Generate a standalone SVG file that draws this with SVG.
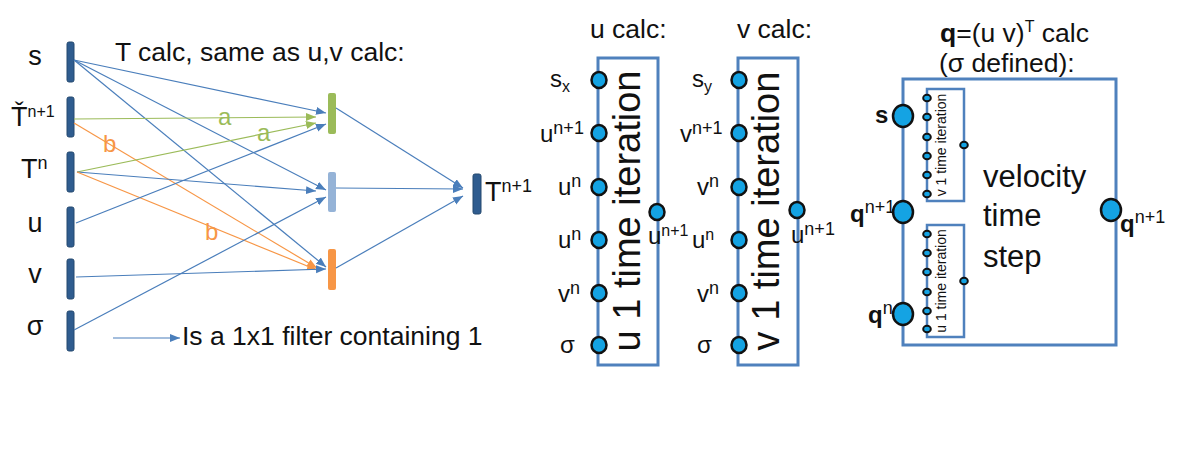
<svg xmlns="http://www.w3.org/2000/svg" width="1177" height="474" viewBox="0 0 1177 474">
<style>
text{font-family:"Liberation Sans",Arial,sans-serif;fill:#111}
.t26{font-size:26.5px}
.t27{font-size:27px}
.t24{font-size:24px}
.sup{font-size:18px}
.sup2{font-size:16px}
.bar{fill:#2f5c8f;stroke:#24496f;stroke-width:1}
.cb{stroke:#4a7ebb;stroke-width:1.2;fill:none}
.cg{stroke:#9bbb59;stroke-width:1.2;fill:none}
.co{stroke:#f79646;stroke-width:1.2;fill:none}
.box{fill:none;stroke:#4f81bd;stroke-width:3}
.port{fill:#14a3e3;stroke:#111;stroke-width:2.5}
.sport{fill:#14a3e3;stroke:#111;stroke-width:2}
.bold{font-weight:bold}
</style>
<defs>
<marker id="ab" markerUnits="userSpaceOnUse" markerWidth="11" markerHeight="9" refX="10" refY="4" orient="auto"><path d="M0,0 L10,4 L0,8 z" fill="#4a7ebb"/></marker>
<marker id="ag" markerUnits="userSpaceOnUse" markerWidth="11" markerHeight="9" refX="10" refY="4" orient="auto"><path d="M0,0 L10,4 L0,8 z" fill="#9bbb59"/></marker>
<marker id="ao" markerUnits="userSpaceOnUse" markerWidth="11" markerHeight="9" refX="10" refY="4" orient="auto"><path d="M0,0 L10,4 L0,8 z" fill="#f79646"/></marker>
</defs>
<rect width="1177" height="474" fill="#fff"/>

<!-- Left T calc section -->
<g id="in-s"><rect class="bar" x="67" y="42" width="7" height="40" rx="2"/><text class="t27" x="35" y="65" text-anchor="middle">s</text></g>
<g id="in-tcheck"><rect class="bar" x="67" y="97" width="7" height="40" rx="2"/><text class="t27" x="11" y="126">Ť<tspan class="sup2" dy="-9">n+1</tspan></text></g>
<g id="in-tn"><rect class="bar" x="67" y="152" width="7" height="40" rx="2"/><text class="t27" x="21" y="178">T<tspan class="sup" dy="-9">n</tspan></text></g>
<g id="in-u"><rect class="bar" x="67" y="207" width="7" height="40" rx="2"/><text class="t27" x="35" y="232" text-anchor="middle">u</text></g>
<g id="in-v"><rect class="bar" x="67" y="259" width="7" height="40" rx="2"/><text class="t27" x="35" y="283" text-anchor="middle">v</text></g>
<g id="in-sigma"><rect class="bar" x="67" y="311" width="7" height="40" rx="2"/><text class="t27" x="35" y="335" text-anchor="middle">σ</text></g>

<g id="mid-green"><rect x="328" y="93" width="8" height="41" rx="2" fill="#9bbb59"/></g>
<g id="mid-blue"><rect x="328" y="172" width="8" height="40" rx="2" fill="#95b3d7"/></g>
<g id="mid-orange"><rect x="328" y="249" width="8" height="41" rx="2" fill="#f79646"/></g>
<g id="out-t"><rect class="bar" x="473" y="174" width="8" height="40" rx="2"/><text class="t27" x="485" y="201">T<tspan class="sup" dy="-9">n+1</tspan></text></g>

<g id="connectors">
<line class="cb" x1="74" y1="60" x2="326" y2="113" marker-end="url(#ab)"/>
<line class="cb" x1="74" y1="60" x2="326" y2="190" marker-end="url(#ab)"/>
<line class="cb" x1="74" y1="60" x2="326" y2="267" marker-end="url(#ab)"/>
<line class="cg" x1="74" y1="119" x2="316" y2="117" marker-end="url(#ag)"/>
<line class="co" x1="74" y1="123" x2="317" y2="268" marker-end="url(#ao)"/>
<line class="cg" x1="77" y1="172" x2="316" y2="123" marker-end="url(#ag)"/>
<line class="cb" x1="77" y1="172" x2="316" y2="191" marker-end="url(#ab)"/>
<line class="co" x1="77" y1="172" x2="317" y2="270" marker-end="url(#ao)"/>
<line class="cb" x1="76" y1="223" x2="326" y2="124" marker-end="url(#ab)"/>
<line class="cb" x1="76" y1="277" x2="326" y2="269" marker-end="url(#ab)"/>
<line class="cb" x1="74" y1="330" x2="326" y2="197" marker-end="url(#ab)"/>
<line class="cb" x1="336" y1="108" x2="463" y2="188" marker-end="url(#ab)"/>
<line class="cb" x1="336" y1="188" x2="463" y2="189" marker-end="url(#ab)"/>
<line class="cb" x1="336" y1="268" x2="463" y2="196" marker-end="url(#ab)"/>
<line class="cb" x1="113" y1="338" x2="180" y2="338" marker-end="url(#ab)"/>
<text class="t24" x="218" y="125" style="fill:#9bbb59">a</text>
<text class="t24" x="257" y="141" style="fill:#9bbb59">a</text>
<text class="t24" x="103" y="152" style="fill:#f79646">b</text>
<text class="t24" x="205" y="240" style="fill:#f79646">b</text>
</g>

<text class="t26" x="115" y="61">T calc, same as u,v calc:</text>
<text class="t26" x="182" y="345">Is a 1x1 filter containing 1</text>

<!-- u calc -->
<g id="u-calc">
<text class="t26" x="590" y="38">u calc:</text>
<rect class="box" x="598" y="58" width="60" height="307"/>
<text x="640" y="211" font-size="38" text-anchor="middle" transform="rotate(-90 640 211)">u 1 time iteration</text>
<ellipse class="port" cx="599" cy="80" rx="7.5" ry="8"/>
<ellipse class="port" cx="599" cy="133" rx="7.5" ry="8"/>
<ellipse class="port" cx="599" cy="187" rx="7.5" ry="8"/>
<ellipse class="port" cx="599" cy="240" rx="7.5" ry="8"/>
<ellipse class="port" cx="599" cy="293" rx="7.5" ry="8"/>
<ellipse class="port" cx="599" cy="345" rx="7.5" ry="8"/>
<ellipse class="port" cx="657" cy="212" rx="7.5" ry="8"/>
<text class="t24" x="550" y="87">s<tspan font-size="16" dy="5">x</tspan></text>
<text class="t24" x="540" y="142">u<tspan class="sup" dy="-8">n+1</tspan></text>
<text class="t24" x="558" y="195">u<tspan class="sup" dy="-8">n</tspan></text>
<text class="t24" x="558" y="248">u<tspan class="sup" dy="-8">n</tspan></text>
<text class="t24" x="558" y="302">v<tspan class="sup" dy="-8">n</tspan></text>
<text class="t24" x="560" y="353">σ</text>
<text class="t24" x="648" y="244">u<tspan class="sup2" dy="-8">n+1</tspan></text>
</g>

<!-- v calc -->
<g id="v-calc">
<text class="t26" x="737" y="38">v calc:</text>
<rect class="box" x="738" y="58" width="60" height="307"/>
<text x="779" y="211" font-size="38" text-anchor="middle" transform="rotate(-90 779 211)">v 1 time iteration</text>
<ellipse class="port" cx="739" cy="80" rx="7.5" ry="8"/>
<ellipse class="port" cx="739" cy="133" rx="7.5" ry="8"/>
<ellipse class="port" cx="739" cy="187" rx="7.5" ry="8"/>
<ellipse class="port" cx="739" cy="240" rx="7.5" ry="8"/>
<ellipse class="port" cx="739" cy="293" rx="7.5" ry="8"/>
<ellipse class="port" cx="739" cy="345" rx="7.5" ry="8"/>
<ellipse class="port" cx="797" cy="210" rx="7.5" ry="8"/>
<text class="t24" x="692" y="87">s<tspan font-size="16" dy="5">y</tspan></text>
<text class="t24" x="680" y="142">v<tspan class="sup" dy="-8">n+1</tspan></text>
<text class="t24" x="697" y="195">v<tspan class="sup" dy="-8">n</tspan></text>
<text class="t24" x="692" y="248">u<tspan class="sup2" dy="-8">n</tspan></text>
<text class="t24" x="697" y="302">v<tspan class="sup" dy="-8">n</tspan></text>
<text class="t24" x="697" y="353">σ</text>
<text class="t24" x="791" y="243">u<tspan class="sup" dy="-8">n+1</tspan></text>
</g>

<!-- q calc -->
<g id="q-calc">
<text class="t26" x="940" y="42"><tspan class="bold">q</tspan>=(u v)<tspan font-size="16" dy="-10">T</tspan><tspan dy="10"> calc</tspan></text>
<text class="t26" x="939" y="72">(σ defined):</text>
<rect class="box" x="903" y="79" width="213" height="266"/>
<text x="983" y="187" font-size="31">velocity</text>
<text x="983" y="226" font-size="31">time</text>
<text x="983" y="267" font-size="31">step</text>
<ellipse class="port" cx="903" cy="116" rx="10" ry="11"/>
<ellipse class="port" cx="903" cy="212" rx="10" ry="11"/>
<ellipse class="port" cx="903" cy="314" rx="10" ry="11"/>
<ellipse class="port" cx="1111" cy="210" rx="10" ry="11"/>
<text class="t24 bold" x="875" y="123">s</text>
<text class="t24" x="850" y="222"><tspan class="bold">q</tspan><tspan class="sup" dy="-9">n+1</tspan></text>
<text class="t24" x="868" y="323"><tspan class="bold">q</tspan><tspan class="sup" dy="-9">n</tspan></text>
<text class="t24" x="1120" y="232"><tspan class="bold">q</tspan><tspan class="sup" dy="-9">n+1</tspan></text>
</g>
<g id="q-v-iter">
<rect class="box" x="927" y="89" width="37" height="112" style="stroke-width:2.5"/>
<text x="946" y="145" font-size="14" text-anchor="middle" transform="rotate(-90 946 145)">v 1 time iteration</text>
<ellipse class="sport" cx="927" cy="98" rx="3.8" ry="3.2"/>
<ellipse class="sport" cx="927" cy="117" rx="3.8" ry="3.2"/>
<ellipse class="sport" cx="927" cy="137" rx="3.8" ry="3.2"/>
<ellipse class="sport" cx="927" cy="156" rx="3.8" ry="3.2"/>
<ellipse class="sport" cx="927" cy="175" rx="3.8" ry="3.2"/>
<ellipse class="sport" cx="927" cy="194" rx="3.8" ry="3.2"/>
<ellipse class="sport" cx="964" cy="145" rx="3.8" ry="3.2"/>
</g>
<g id="q-u-iter">
<rect class="box" x="927" y="225" width="37" height="112" style="stroke-width:2.5"/>
<text x="946" y="281" font-size="14" text-anchor="middle" transform="rotate(-90 946 281)">u 1 time iteration</text>
<ellipse class="sport" cx="927" cy="234" rx="3.8" ry="3.2"/>
<ellipse class="sport" cx="927" cy="253" rx="3.8" ry="3.2"/>
<ellipse class="sport" cx="927" cy="272" rx="3.8" ry="3.2"/>
<ellipse class="sport" cx="927" cy="292" rx="3.8" ry="3.2"/>
<ellipse class="sport" cx="927" cy="311" rx="3.8" ry="3.2"/>
<ellipse class="sport" cx="927" cy="329" rx="3.8" ry="3.2"/>
<ellipse class="sport" cx="964" cy="281" rx="3.8" ry="3.2"/>
</g>
</svg>
